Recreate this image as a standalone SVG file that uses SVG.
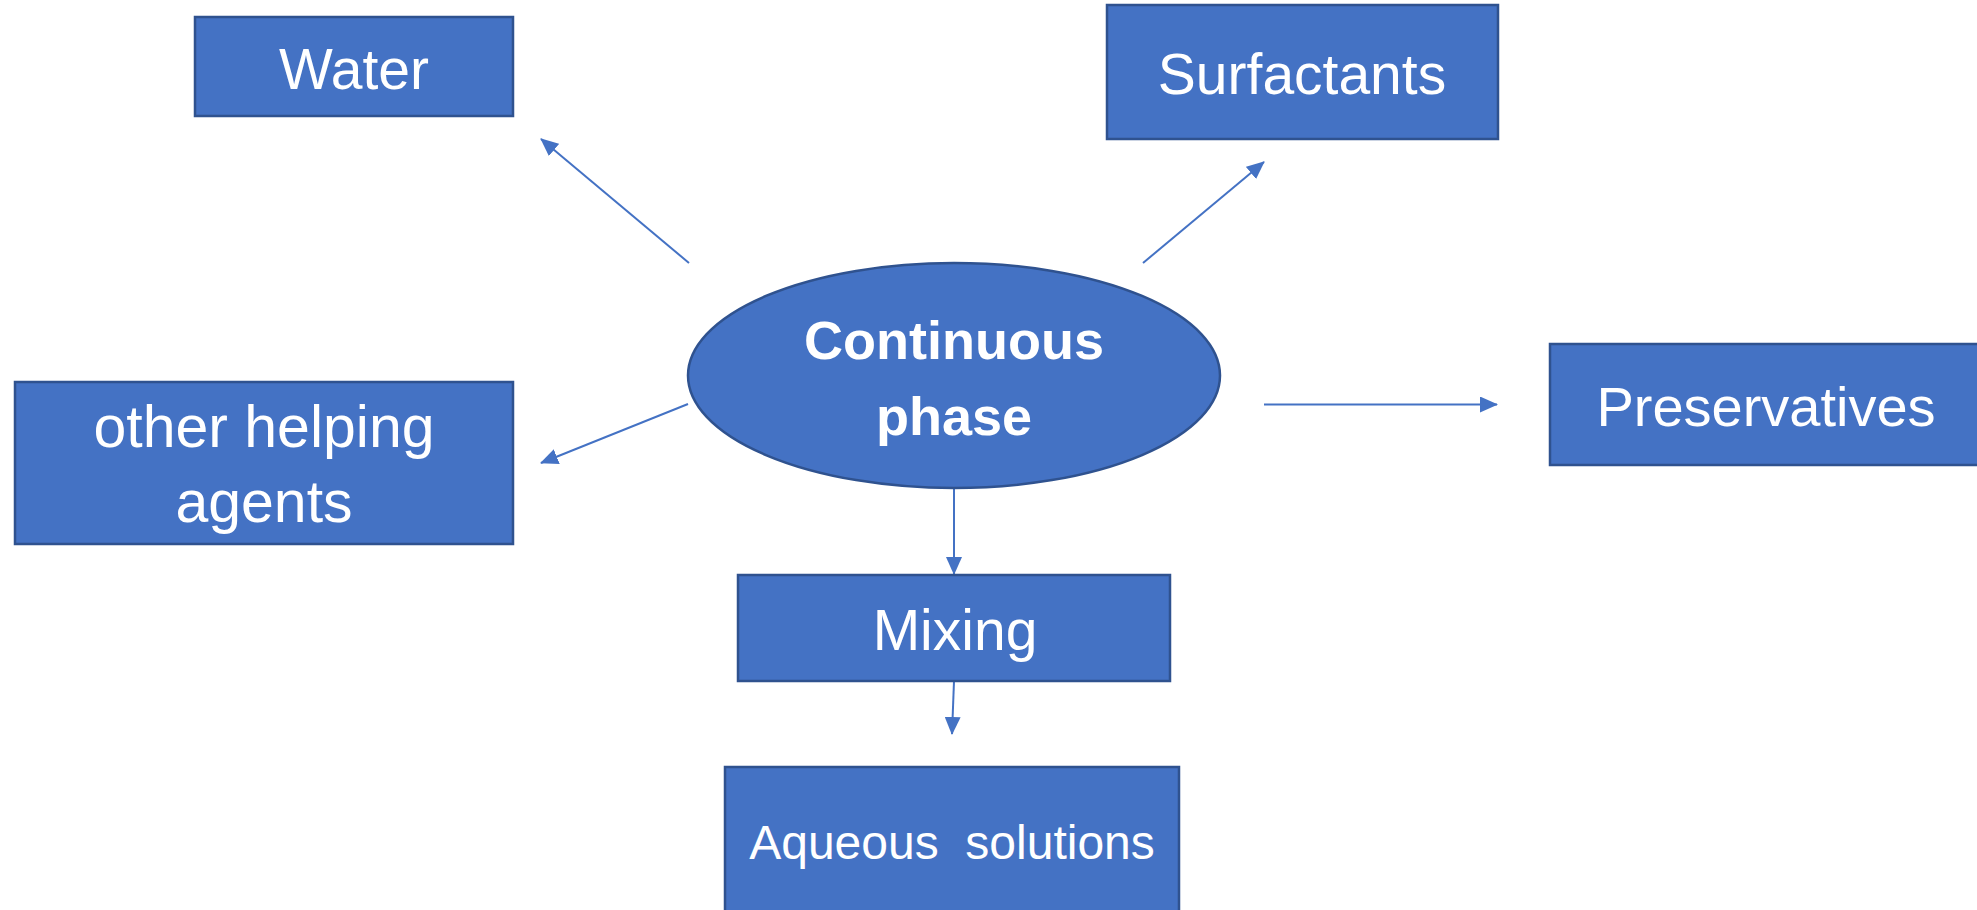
<svg xmlns="http://www.w3.org/2000/svg" width="1977" height="910" viewBox="0 0 1977 910">
<defs>
<style>
.box{fill:#4472C4;stroke:#2F528F;stroke-width:2.5}
.t{fill:#FFFFFF;font-family:"Liberation Sans",Arial,sans-serif;font-size:57px;text-anchor:middle}
.b{font-weight:bold;font-size:54px}
.c{fill:none;stroke:#4472C4;stroke-width:2}
</style>
<marker id="ah" markerUnits="userSpaceOnUse" markerWidth="18" markerHeight="16" viewBox="0 0 18 16" refX="17" refY="8" orient="auto">
<path d="M0,0 L18,8 L0,16 z" fill="#4472C4"/>
</marker>
</defs>
<rect width="1977" height="910" fill="#FFFFFF"/>
<g id="connectors">
<line class="c" x1="689" y1="263" x2="541" y2="139" marker-end="url(#ah)"/>
<line class="c" x1="1143" y1="263" x2="1264" y2="162" marker-end="url(#ah)"/>
<line class="c" x1="688" y1="404" x2="541" y2="463" marker-end="url(#ah)"/>
<line class="c" x1="1264" y1="404.5" x2="1497" y2="404.5" marker-end="url(#ah)"/>
<line class="c" x1="954" y1="488" x2="954" y2="574" marker-end="url(#ah)"/>
<line class="c" x1="954" y1="681" x2="952" y2="734" marker-end="url(#ah)"/>
</g>
<g id="water">
<rect class="box" x="195" y="17" width="318" height="99"/>
<text class="t" x="354" y="89">Water</text>
</g>
<g id="surfactants">
<rect class="box" x="1107" y="5" width="391" height="134"/>
<text class="t" x="1302" y="94">Surfactants</text>
</g>
<g id="other-helping-agents">
<rect class="box" x="15" y="382" width="498" height="162"/>
<text class="t" x="264" y="447" style="font-size:59px">other helping</text>
<text class="t" x="264" y="522" style="font-size:59px">agents</text>
</g>
<g id="continuous-phase">
<ellipse class="box" cx="954" cy="375.5" rx="266" ry="112.5"/>
<text class="t b" x="954" y="359">Continuous</text>
<text class="t b" x="954" y="435">phase</text>
</g>
<g id="preservatives">
<rect class="box" x="1550" y="344" width="430" height="121"/>
<text class="t" x="1766" y="426" style="font-size:56px">Preservatives</text>
</g>
<g id="mixing">
<rect class="box" x="738" y="575" width="432" height="106"/>
<text class="t" x="955" y="650">Mixing</text>
</g>
<g id="aqueous-solutions">
<rect class="box" x="725" y="767" width="454" height="150"/>
<text class="t" x="952" y="859" xml:space="preserve" style="font-size:48px;white-space:pre">Aqueous  solutions</text>
</g>
</svg>
